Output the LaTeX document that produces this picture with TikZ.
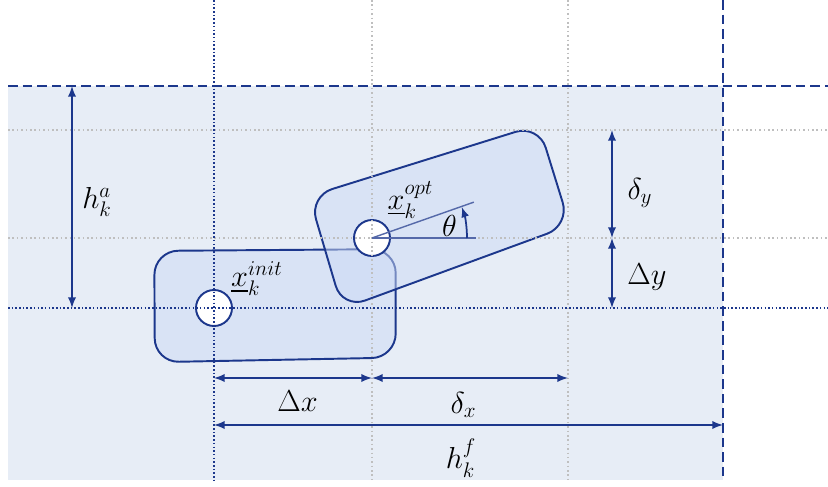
\documentclass[tikz,border=0pt]{standalone}
\usepackage{amsmath}
\usepackage{tikz}
\usetikzlibrary{arrows}
\definecolor{poseblue}{RGB}{28,55,140}
\definecolor{posefill}{RGB}{204,218,245}
\definecolor{zonefill}{RGB}{231,237,246}
\tikzset{
  dim_arrow/.style = {<->, >=latex, poseblue, line width=1.1pt},% cotes
  grid_line/.style = {gray!50, line width=0.8pt,
    dash pattern=on 0.9pt off 1.6pt},% grille
  ref_line/.style = {poseblue, line width=0.9pt,
    dash pattern=on 0.9pt off 1.2pt},% axes de la pose initiale
  bound_line/.style = {poseblue, line width=1.1pt,
    dash pattern=on 5.5pt off 2.8pt},% limites de la zone
  pose_shape/.style = {draw=poseblue, fill=posefill, fill opacity=0.5,
    line width=1.1pt, rounded corners=0.48cm},% vehicule
  pose_pt/.style = {circle, draw=poseblue, fill=white, line width=1.1pt,
    minimum size=0.72cm, inner sep=0pt},% point de reference
  theta_line/.style = {poseblue!75, line width=0.8pt},
  dim_label/.style = {font=\LARGE, inner sep=1pt}
}
\begin{document}
\begin{tikzpicture}[>=latex]
  \useasboundingbox (0,0) rectangle (16.56,9.72);
  % zone
  \fill[zonefill] (0.16,0.12) rectangle (14.46,8.0);
  % poses
  \draw[pose_shape] (5.5,4.72) -- (7.914,4.738) -- (7.914,2.568)
    -- (3.096,2.476) -- (3.086,4.702) -- cycle;
  \draw[pose_shape] (8.478,6.511) -- (10.772,7.226) -- (11.396,5.212)
    -- (6.85,3.544) -- (6.184,5.796) -- cycle;
  \node [pose_pt] (init_pt) at (4.28,3.56) {};
  \node [pose_pt] (opt_pt) at (7.44,4.96) {};
  % grille
  \foreach \gx in {7.44,11.36}
    \draw[grid_line] (\gx,9.72) -- (\gx,0.12);
  \foreach \gy in {7.12,4.96}
    \draw[grid_line] (0.16,\gy) -- (16.56,\gy);
  \draw[ref_line] (4.28,9.72) -- (4.28,0.12);
  \draw[ref_line] (0.16,3.56) -- (16.56,3.56);
  \draw[bound_line] (0.16,8.0) -- (16.56,8.0);
  \draw[bound_line] (14.46,9.72) -- (14.46,0.12);
  % angle
  \draw[theta_line] (opt_pt.center) -- ++(19.4:2.16);
  \draw[theta_line] (opt_pt.center) -- ++(2.08,0);
  \draw[->, poseblue, line width=1pt] ([xshift=1.9cm]opt_pt.center)
    arc[start angle=0, end angle=19, radius=1.9cm];
  % cotes
  \coordinate (ha_top) at (1.44,8.0);
  \coordinate (ha_bot) at (1.44,3.56);
  \coordinate (dy_top) at (12.24,7.12);
  \coordinate (dy_mid) at (12.24,4.96);
  \coordinate (dy_bot) at (12.24,3.56);
  \coordinate (dx_left) at (4.28,2.16);
  \coordinate (dx_mid) at (7.44,2.16);
  \coordinate (dx_right) at (11.36,2.16);
  \coordinate (hf_left) at (4.28,1.22);
  \coordinate (hf_right) at (14.46,1.22);
  \draw[dim_arrow] (ha_top) -- (ha_bot);
  \draw[dim_arrow] (dy_top) -- (dy_mid);
  \draw[dim_arrow] (dy_mid) -- (dy_bot);
  \draw[dim_arrow] (dx_left) -- (dx_mid);
  \draw[dim_arrow] (dx_mid) -- (dx_right);
  \draw[dim_arrow] (hf_left) -- (hf_right);
  % textes
  \node [dim_label] (ha_lbl) at (1.94,5.68) {$h_k^a$};
  \node [dim_label] (sy_lbl) at (12.8,5.86) {$\delta_y$};
  \node [dim_label] (Dy_lbl) at (12.94,4.18) {$\Delta y$};
  \node [dim_label] (Dx_lbl) at (5.95,1.7) {$\Delta x$};
  \node [dim_label] (sx_lbl) at (9.27,1.62) {$\delta_x$};
  \node [dim_label] (hf_lbl) at (9.22,0.56) {$h_k^f$};
  \node [dim_label] (th_lbl) at (8.99,5.2) {$\theta$};
  \node [dim_label] (opt_lbl) at (8.21,5.72) {$\underline{x}_k^{opt}$};
  \node [dim_label] (init_lbl) at (5.14,4.15) {$\underline{x}_k^{init}$};
\end{tikzpicture}
\end{document}
